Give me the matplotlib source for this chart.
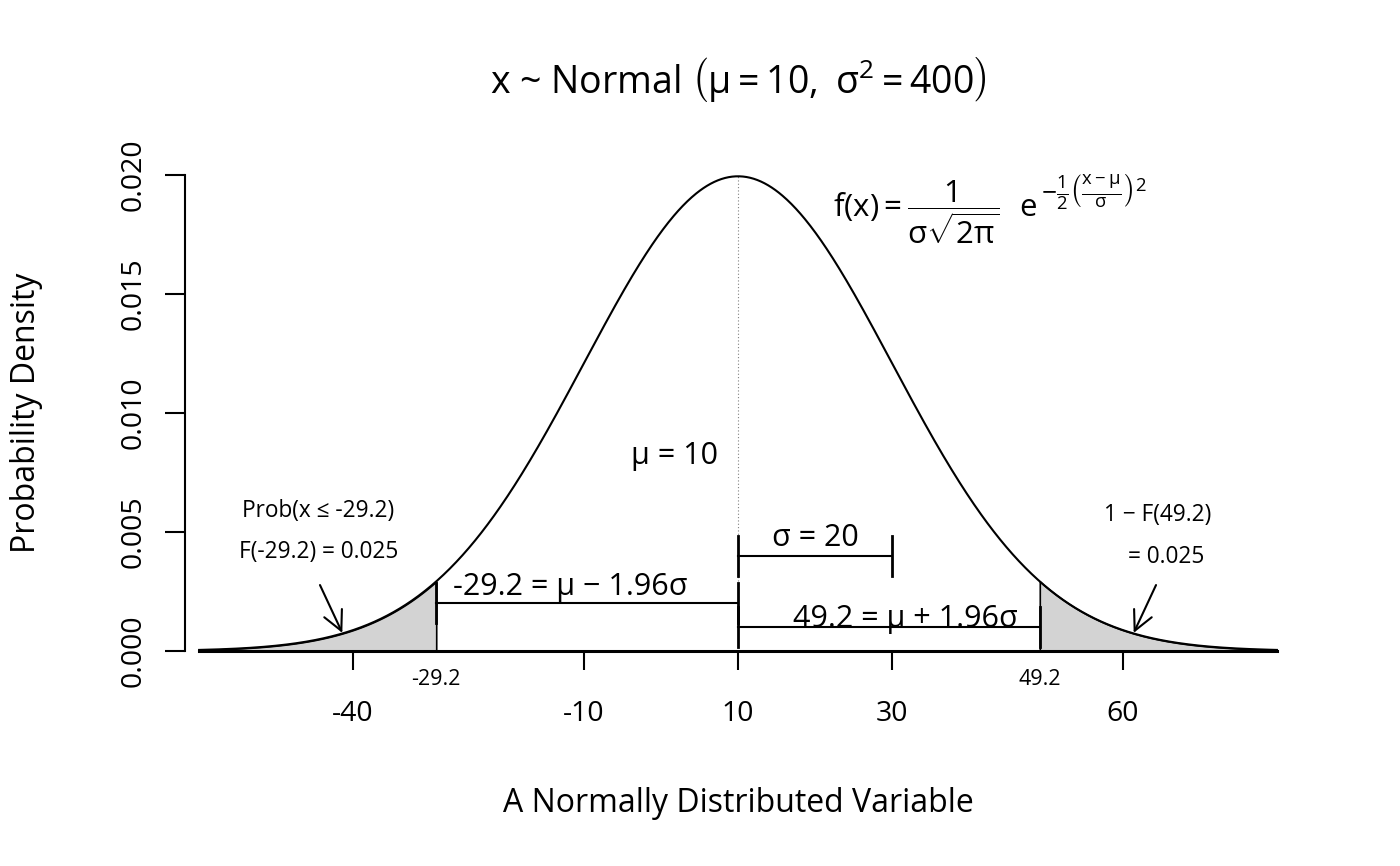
import numpy as np
import matplotlib
matplotlib.use('Agg')
import matplotlib.pyplot as plt

# ---- data ----
mu = 10
sigma = 20
z_crit = 1.96
x_min, x_max = -60, 80
lower = mu - z_crit * sigma   # -29.2
upper = mu + z_crit * sigma   # 49.2
major_ticks = [-40, -10, 10, 30, 60]
major_labels = ['-40', '-10', '10', '30', '60']
crit_ticks = [lower, upper]
crit_labels = ['-29.2', '49.2']
y_ticks = [0.000, 0.005, 0.010, 0.015, 0.020]
y_labels = ['0.000', '0.005', '0.010', '0.015', '0.020']

plt.rcParams['font.family'] = ['Open Sans', 'DejaVu Sans']
plt.rcParams['mathtext.fontset'] = 'custom'
plt.rcParams['mathtext.rm'] = 'Open Sans'
plt.rcParams['mathtext.it'] = 'Open Sans:italic'
plt.rcParams['mathtext.bf'] = 'Open Sans:bold'
plt.rcParams['mathtext.default'] = 'regular'


def dnorm(x):
    return np.exp(-0.5 * ((x - mu) / sigma) ** 2) / (sigma * np.sqrt(2 * np.pi))


W, H = 1400, 866
fig = plt.figure(figsize=(14, 8.66), dpi=100)
ax = fig.add_axes([156 / W, (H - 670) / H, (1320 - 156) / W, (670 - 156) / H])
ax.set_xlim(-65.6, 85.6)
ax.set_ylim(-0.0008, 0.0208)
ax.patch.set_visible(False)

for s in ['top', 'right']:
    ax.spines[s].set_visible(False)
ax.spines['left'].set_position(('data', -61.8))
ax.spines['left'].set_bounds(0, 0.02)
ax.spines['left'].set_linewidth(1.5)
ax.spines['bottom'].set_position(('data', 0))
ax.spines['bottom'].set_color('none')

ax.set_yticks(y_ticks)
ax.set_yticklabels(y_labels, rotation=90, va='center')
ax.tick_params(axis='y', length=14.4, width=1.5, pad=13, labelsize=20.5)

ax.set_xticks(major_ticks)
ax.set_xticklabels(major_labels)
ax.set_xticks(crit_ticks, minor=True)
ax.set_xticklabels(crit_labels, minor=True)
ax.tick_params(axis='x', which='major', length=14, width=1.5, pad=21, labelsize=20.5)
ax.tick_params(axis='x', which='minor', length=0, pad=13, labelsize=15.5)

# curve
xs = np.linspace(x_min, x_max, 1200)
ax.plot(xs, dnorm(xs), color='black', lw=1.5, zorder=4)

# shaded tails
xl = np.linspace(x_min, lower, 400)
xr = np.linspace(upper, x_max, 400)
ax.fill_between(xl, dnorm(xl), 0, facecolor='#d3d3d3', edgecolor='black', lw=1.2, zorder=2)
ax.fill_between(xr, dnorm(xr), 0, facecolor='#d3d3d3', edgecolor='black', lw=1.2, zorder=2)

# baseline
ax.plot([x_min, x_max], [0, 0], color='black', lw=2.2, zorder=5)

# mean dotted line
ax.plot([mu, mu], [0, dnorm(mu)], color='gray', lw=0.8, ls=(0, (1, 2)), zorder=1)


def bracket(x0, x1, y, half=0.00084):
    ax.plot([x0, x1], [y, y], color='black', lw=1.5, zorder=6)
    ax.plot([x0, x0], [y - half, y + half], color='black', lw=2, zorder=6)
    ax.plot([x1, x1], [y - half, y + half], color='black', lw=2, zorder=6)


bracket(lower, mu, 0.002)
bracket(mu, upper, 0.001)
bracket(mu, mu + sigma, 0.004)

ax.text(7.4, 0.0082, 'μ = 10', ha='right', va='center', fontsize=22)
ax.text(mu + sigma / 2, 0.0041, 'σ = 20', ha='center', va='bottom', fontsize=22)
ax.text(-11.8, 0.00205, '-29.2 = μ − 1.96σ', ha='center', va='bottom', fontsize=22)
ax.text(31.8, 0.00100, '49.2 = μ + 1.96σ', ha='center', va='baseline', fontsize=22)

ax.text(-44.5, 0.0059, 'Prob(x ≤ -29.2)', ha='center', va='center', fontsize=16.3)
ax.text(-44.5, 0.00416, 'F(-29.2) = 0.025', ha='center', va='center', fontsize=16.3)
ax.text(64.5, 0.0057, '1 − F(49.2)', ha='center', va='center', fontsize=16.3)
ax.text(65.6, 0.00395, '= 0.025', ha='center', va='center', fontsize=16.3)

arrow_style = dict(arrowstyle='->,head_length=0.7,head_width=0.35', mutation_scale=20,
                   color='black', lw=1.5, shrinkA=0, shrinkB=0)
ax.annotate('', xy=(-41.4, 0.00076), xytext=(-44.3, 0.00277), arrowprops=arrow_style)
ax.annotate('', xy=(61.4, 0.00076), xytext=(64.3, 0.00277), arrowprops=arrow_style)

# density formula: main part and exponent
ax.text(22.3, 0.01845,
        r'$\mathrm{f(x)} = \dfrac{1}{\sigma\sqrt{2\pi}}\ \ \mathrm{e}$',
        ha='left', va='center', fontsize=22.5)
ax.text(49.4, 0.0193,
        r'$-\frac{1}{2}\left(\frac{x-\mu}{\sigma}\right)^{2}$',
        ha='left', va='center', fontsize=19)

fig.text(738 / W, 1 - 80 / H, r'x ~ Normal $\left(\mu = 10,\ \sigma^{2} = 400\right)$',
         ha='center', va='center', fontsize=27)
fig.text(738 / W, 1 - 803 / H, 'A Normally Distributed Variable', ha='center', va='center', fontsize=23)
fig.text(27 / W, 1 - 413 / H, 'Probability Density', ha='center', va='center', rotation=90, fontsize=23)

fig.savefig('out.png', dpi=100)
